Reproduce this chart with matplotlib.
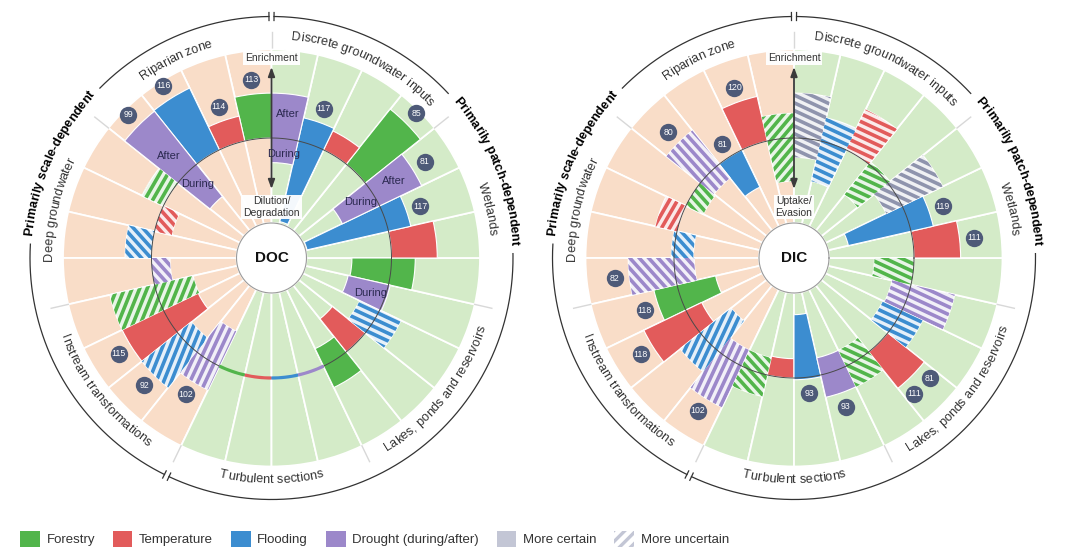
"""
Two radial summaries (DOC and DIC) of how land-use and climate drivers shift
riverine carbon across landscape compartments.
"""

import numpy as np
import matplotlib

matplotlib.use("Agg")
import matplotlib.pyplot as plt
from matplotlib.collections import LineCollection
from matplotlib.patches import Patch
from matplotlib.path import Path
from matplotlib.font_manager import FontProperties, findfont, get_font
from matplotlib.colors import to_rgb

plt.rcParams["font.family"] = ["Liberation Sans", "DejaVu Sans"]
plt.rcParams["hatch.linewidth"] = 2.4

DPI = 100

# ---------------------------------------------------------------- data
SECTIONS = [
    "Riparian zone",
    "Deep groundwater",
    "Instream transformations",
    "Turbulent sections",
    "Lakes, ponds and reservoirs",
    "Wetlands",
    "Discrete groundwater inputs",
]
SCALE_DEPENDENT = ["Riparian zone", "Deep groundwater", "Instream transformations"]
DRIVERS = ["Forestry", "Temperature", "Flooding", "Drought"]

# (low, high) effect per section; 0 = baseline ring, +1 = outer edge,
# negative = dilution/uptake side.  kind: s = solid (more certain),
# h = hatched (more uncertain), g = grey hatched
DOC_FORESTRY = [(0, .51), (0, .27), (-.45, .52), (0, 0), (-.22, .27), (-.45, .27), (0, .80)]
DOC_TEMPERATURE = [(0, .29), (-.20, 0), (-.44, .52), (0, 0), (-.48, 0), (0, .52), (0, .24)]
DOC_FLOODING = [(0, .78), (0, .30), (-.20, .52), (0, 0), (-.25, .27), (-.95, .26), (-.94, .27)]
DOC_DROUGHT = [(-.47, .77), (-.21, 0), (-.44, .30), (0, 0), (-.47, .02), (-.47, .53), (-.28, .51)]
DOC_KINDS = {
    "Forestry": "shhssss",
    "Temperature": "shsssss",
    "Flooding": "shhshss",
    "Drought": "shhssss",
}

DIC_FORESTRY = [(-.49, .28), (-.22, 0), (-.45, .27), (-.20, .25), (-.20, .26), (-.45, 0), (-.44, .03)]
DIC_TEMPERATURE = [(0, .52), (0, .25), (-.20, .53), (-.22, 0), (0, .53), (0, .53), (0, .51)]
DIC_FLOODING = [(-.47, 0), (-.22, .03), (-.45, .29), (-.72, .02), (-.24, .26), (-.73, .26), (-.47, .27)]
DIC_DROUGHT = [(-.20, .49), (-.23, .52), (-.20, .52), (-.20, .26), (-.22, .51), (-.20, .51), (-.22, .51)]
DIC_KINDS = {
    "Forestry": "hhshhhh",
    "Temperature": "shssssh",
    "Flooding": "shhshsh",
    "Drought": "hhhshgg",
}

# number of studies shown in the badges
DOC_COUNTS = [
    ("Riparian zone", "Forestry", [113]),
    ("Riparian zone", "Temperature", [114]),
    ("Riparian zone", "Flooding", [116]),
    ("Riparian zone", "Drought", [99]),
    ("Instream transformations", "Temperature", [115]),
    ("Instream transformations", "Flooding", [92]),
    ("Instream transformations", "Drought", [102]),
    ("Wetlands", "Flooding", [117]),
    ("Wetlands", "Drought", [81]),
    ("Discrete groundwater inputs", "Forestry", [85]),
    ("Discrete groundwater inputs", "Flooding", [117]),
]
DIC_COUNTS = [
    ("Riparian zone", "Temperature", [120]),
    ("Riparian zone", "Flooding", [81]),
    ("Riparian zone", "Drought", [80]),
    ("Deep groundwater", "Drought", [82]),
    ("Instream transformations", "Forestry", [118]),
    ("Instream transformations", "Temperature", [118]),
    ("Instream transformations", "Drought", [102]),
    ("Turbulent sections", "Flooding", [93]),
    ("Turbulent sections", "Drought", [93]),
    ("Lakes, ponds and reservoirs", "Temperature", [111, 81]),
    ("Wetlands", "Temperature", [111]),
    ("Wetlands", "Flooding", [119]),
]

DOC_PHASES = {
    "Riparian zone": ["During", "After"],
    "Lakes, ponds and reservoirs": ["During"],
    "Wetlands": ["During", "After"],
    "Discrete groundwater inputs": ["During", "After"],
}
DIC_PHASES = {}

LEGEND_LABELS = ["Forestry", "Temperature", "Flooding", "Drought (during/after)",
                 "More certain", "More uncertain"]

# ---------------------------------------------------------------- style
COLORS = {
    "Forestry": "#52B54B",
    "Temperature": "#E25B5B",
    "Flooding": "#3C8DD0",
    "Drought": "#9C88CA",
}
GREY_STRIPE = "#8F94AD"
GREY_LIGHT = "#C3C6D5"
PEACH = "#F9DDC8"
GREEN_BG = "#D4EBC8"
BADGE = "#4E5A78"
TEXT = "#333333"

# stripe direction (deg, screen) where it departs from the default
STRIPE_TILT = {
    ("DOC", "Deep groundwater", "Forestry"): 60,
    ("DOC", "Instream transformations", "Forestry"): 68,
    ("DOC", "Instream transformations", "Flooding"): 68,
    ("DOC", "Instream transformations", "Drought"): 65,
    ("DIC", "Riparian zone", "Forestry"): 50,
    ("DIC", "Deep groundwater", "Temperature"): 60,
    ("DIC", "Instream transformations", "Flooding"): 65,
    ("DIC", "Instream transformations", "Drought"): 65,
}

N_SUB = len(DRIVERS)
STEP = 360 / (len(SECTIONS) * N_SUB)
R_AX = 262          # axes radius in pixels, so 1 radial unit = 1 px
R_HOLE = 35
R_ZERO = 120
UNIT = 88.0
R_BG = 208.5
R_SPOKE = 226
R_ARC = 241.5
R_SECTION_LABEL = 222
R_GROUP_LABEL = 243


def radius(v):
    return R_ZERO + UNIT * v


def sub_theta(sec, drv):
    i = SECTIONS.index(sec) * N_SUB + DRIVERS.index(drv)
    return 90 + (i + 0.5) * STEP


def tint(color, amount=0.13):
    c = np.array(to_rgb(color))
    return tuple(c * amount + (1 - amount))


def advance(ch, fp):
    font = get_font(findfont(fp))
    font.set_size(fp.get_size_in_points(), DPI)
    return font.load_char(ord(ch)).linearHoriAdvance / 65536


def arc_text(ax, text, theta, r, upper, fp, color):
    """Write text letter by letter along a circle; returns angular span."""
    widths = np.array([advance(ch, fp) for ch in text])
    edges = np.concatenate([[0], np.cumsum(widths)])
    mids = (edges[:-1] + edges[1:]) / 2 - edges[-1] / 2
    for ch, m in zip(text, mids):
        d = np.degrees(m / r)
        th = theta - d if upper else theta + d
        rot = th - 90 if upper else th + 90
        ax.text(np.radians(th), r, ch, rotation=rot, rotation_mode="anchor",
                ha="center", va="center", fontproperties=fp, color=color)
    return np.degrees(edges[-1] / r)


def wedge_path(theta, r0, r1):
    t = np.radians(np.linspace(theta - STEP / 2, theta + STEP / 2, 40))
    outer = np.c_[r1 * np.cos(t), r1 * np.sin(t)]
    inner = np.c_[r0 * np.cos(t[::-1]), r0 * np.sin(t[::-1])]
    pts = np.vstack([outer, inner, outer[:1]])
    return Path(pts, closed=True)


def add_stripes(ax, theta, r0, r1, color, tilt):
    cart = ax.transProjectionAffine + ax.transWedge + ax.transAxes
    rm = (r0 + r1) / 2
    cx, cy = rm * np.cos(np.radians(theta)), rm * np.sin(np.radians(theta))
    half = (r1 - r0) / 2 + 30
    a = np.radians(tilt)
    d = np.array([np.cos(a), np.sin(a)])
    n = np.array([-d[1], d[0]])
    segs = []
    for o in np.arange(-half, half + 0.1, 7.0):
        p = np.array([cx, cy]) + o * n
        segs.append([p - half * d, p + half * d])
    lc = LineCollection(segs, colors=color, linewidths=2.6, transform=cart, zorder=3.1)
    ax.add_collection(lc, autolim=False)
    lc.set_clip_path(wedge_path(theta, r0, r1), cart)


def arc(ax, t0, t1, r, **kw):
    th = np.radians(np.linspace(t0, t1, 200))
    ax.plot(th, np.full_like(th, r), **kw)


def draw_chart(ax, name, bottom_label, ranges, kinds, counts, phases):
    # background compartments
    for s, sec in enumerate(SECTIONS):
        bg = PEACH if sec in SCALE_DEPENDENT else GREEN_BG
        for d in range(N_SUB):
            th = 90 + (s * N_SUB + d + 0.5) * STEP
            ax.bar(np.radians(th), R_BG - R_HOLE, width=np.radians(STEP), bottom=R_HOLE,
                   color=bg, edgecolor="white", linewidth=1.3, zorder=1)
        t = np.radians(90 + s * N_SUB * STEP)
        ax.plot([t, t], [R_BG, R_SPOKE], color="#D8D8D8", lw=1.0, zorder=1)

    # driver bars
    for drv in DRIVERS:
        for sec, (lo, hi), kind in zip(SECTIONS, ranges[drv], kinds[drv]):
            th = sub_theta(sec, drv)
            col = GREY_STRIPE if kind == "g" else COLORS[drv]
            if lo == hi:
                ax.bar(np.radians(th), 3.2, width=np.radians(STEP), bottom=R_ZERO - 1.6,
                       color=col, linewidth=0, zorder=4.5)
                continue
            r0, r1 = radius(lo), radius(hi)
            face = col if kind == "s" else tint(col)
            ax.bar(np.radians(th), r1 - r0, width=np.radians(STEP), bottom=r0,
                   color=face, edgecolor="white", linewidth=0.8, zorder=3)
            if kind != "s":
                tilt = STRIPE_TILT.get((name, sec, drv),
                                       -48 if np.cos(np.radians(th)) < 0 else -25)
                add_stripes(ax, th, r0, r1, col, tilt)

    # baseline ring
    arc(ax, 0, 360, R_ZERO, color="#4a4a4a", lw=0.7, zorder=4)

    # centre hole
    ax.bar(0, R_HOLE, width=2 * np.pi, bottom=0, color="white", linewidth=0, zorder=5)
    arc(ax, 0, 360, R_HOLE, color="#9a9a9a", lw=0.8, zorder=5.1)
    ax.text(0, 0, name, ha="center", va="center", fontsize=11, fontweight="bold",
            color="#111111", zorder=6)

    # direction arrow
    ax.annotate("", xy=(np.pi / 2, 191), xytext=(np.pi / 2, 69),
                arrowprops=dict(arrowstyle="<|-|>,head_length=0.55,head_width=0.2",
                                color="#3b3b3b", lw=1.3, shrinkA=0, shrinkB=0),
                zorder=6)
    box = dict(boxstyle="square,pad=0.18", fc="white", ec="none", alpha=0.95)
    ax.text(np.pi / 2, 200, "Enrichment", ha="center", va="center", fontsize=7.5,
            color=TEXT, bbox=box, zorder=7)
    ax.text(np.pi / 2, 51, bottom_label, ha="center", va="center", fontsize=7.5,
            color=TEXT, linespacing=1.15, bbox=box, zorder=7)

    # during / after annotations on drought bars
    for sec, words in phases.items():
        th = np.radians(sub_theta(sec, "Drought"))
        for w in words:
            r = radius(0.28) if w == "After" else radius(-0.17)
            ax.text(th, r, w, ha="center", va="center", fontsize=8, color="#2b2950",
                    zorder=7)

    # study-count badges
    for sec, drv, nums in counts:
        hi = ranges[drv][SECTIONS.index(sec)][1]
        base = sub_theta(sec, drv)
        offs = np.linspace(-0.27, 0.27, len(nums)) if len(nums) > 1 else [0]
        for n, o in zip(nums, offs):
            th = np.radians(base + o * STEP)
            r = radius(hi) + 14.5
            ax.plot(th, r, "o", ms=12.5, color=BADGE, mec="none", zorder=8)
            ax.text(th, r, str(n), ha="center", va="center", fontsize=6.3,
                    color="white", zorder=9)

    # compartment names
    fp = FontProperties(family="Liberation Sans", size=9.2)
    for s, sec in enumerate(SECTIONS):
        mid = (90 + (s + 0.5) * N_SUB * STEP) % 360
        arc_text(ax, sec, mid, R_SECTION_LABEL, 0 < mid < 180, fp, TEXT)

    # outer grouping arcs
    fpb = FontProperties(family="Liberation Sans", size=9.2, weight="bold")
    split = 90 + len(SCALE_DEPENDENT) * N_SUB * STEP
    c_scale, c_patch = 156.0, 22.0
    w_s = arc_text(ax, "Primarily scale-dependent", c_scale, R_GROUP_LABEL, True, fpb, "black")
    w_p = arc_text(ax, "Primarily patch-dependent", c_patch, R_GROUP_LABEL, True, fpb, "black")
    kw = dict(color="#333333", lw=0.9, zorder=2)
    gap = 0.6
    arc(ax, 90 + gap, c_scale - w_s / 2 - 2, R_ARC, **kw)
    arc(ax, c_scale + w_s / 2 + 2, split - gap, R_ARC, **kw)
    arc(ax, split + gap, 360 + c_patch - w_p / 2 - 2, R_ARC, **kw)
    arc(ax, c_patch + w_p / 2 + 2, 90 - gap, R_ARC, **kw)
    for t in (90 - gap, 90 + gap, split - gap, split + gap):
        ax.plot([np.radians(t)] * 2, [R_ARC - 4, R_ARC + 4], **kw)

    ax.set_ylim(0, R_AX)
    ax.set_axis_off()


fig = plt.figure(figsize=(10.8, 5.58), dpi=DPI)
W, H = 1080, 558
size = 2 * R_AX
for cx, name, bottom_label, ranges, kinds, counts, phases in [
    (271.5, "DOC", "Dilution/\nDegradation",
     {"Forestry": DOC_FORESTRY, "Temperature": DOC_TEMPERATURE,
      "Flooding": DOC_FLOODING, "Drought": DOC_DROUGHT},
     DOC_KINDS, DOC_COUNTS, DOC_PHASES),
    (794.0, "DIC", "Uptake/\nEvasion",
     {"Forestry": DIC_FORESTRY, "Temperature": DIC_TEMPERATURE,
      "Flooding": DIC_FLOODING, "Drought": DIC_DROUGHT},
     DIC_KINDS, DIC_COUNTS, DIC_PHASES),
]:
    cy = 258
    ax = fig.add_axes([(cx - R_AX) / W, (H - cy - R_AX) / H, size / W, size / H],
                      projection="polar")
    draw_chart(ax, name, bottom_label, ranges, kinds, counts, phases)

handles = [Patch(facecolor=COLORS[d], edgecolor="none") for d in DRIVERS]
handles += [Patch(facecolor=GREY_LIGHT, edgecolor="none"),
            Patch(facecolor="white", edgecolor=GREY_LIGHT, hatch="///", linewidth=0)]
fig.legend(handles, LEGEND_LABELS, loc="center left",
           bbox_to_anchor=(20 / W, 1 - 539 / H), ncol=6, frameon=False,
           fontsize=9.5, handlelength=1.5, handleheight=1.6, handletextpad=0.5,
           columnspacing=1.35, borderpad=0, borderaxespad=0, labelcolor=TEXT)

fig.savefig("out.png", dpi=DPI)
